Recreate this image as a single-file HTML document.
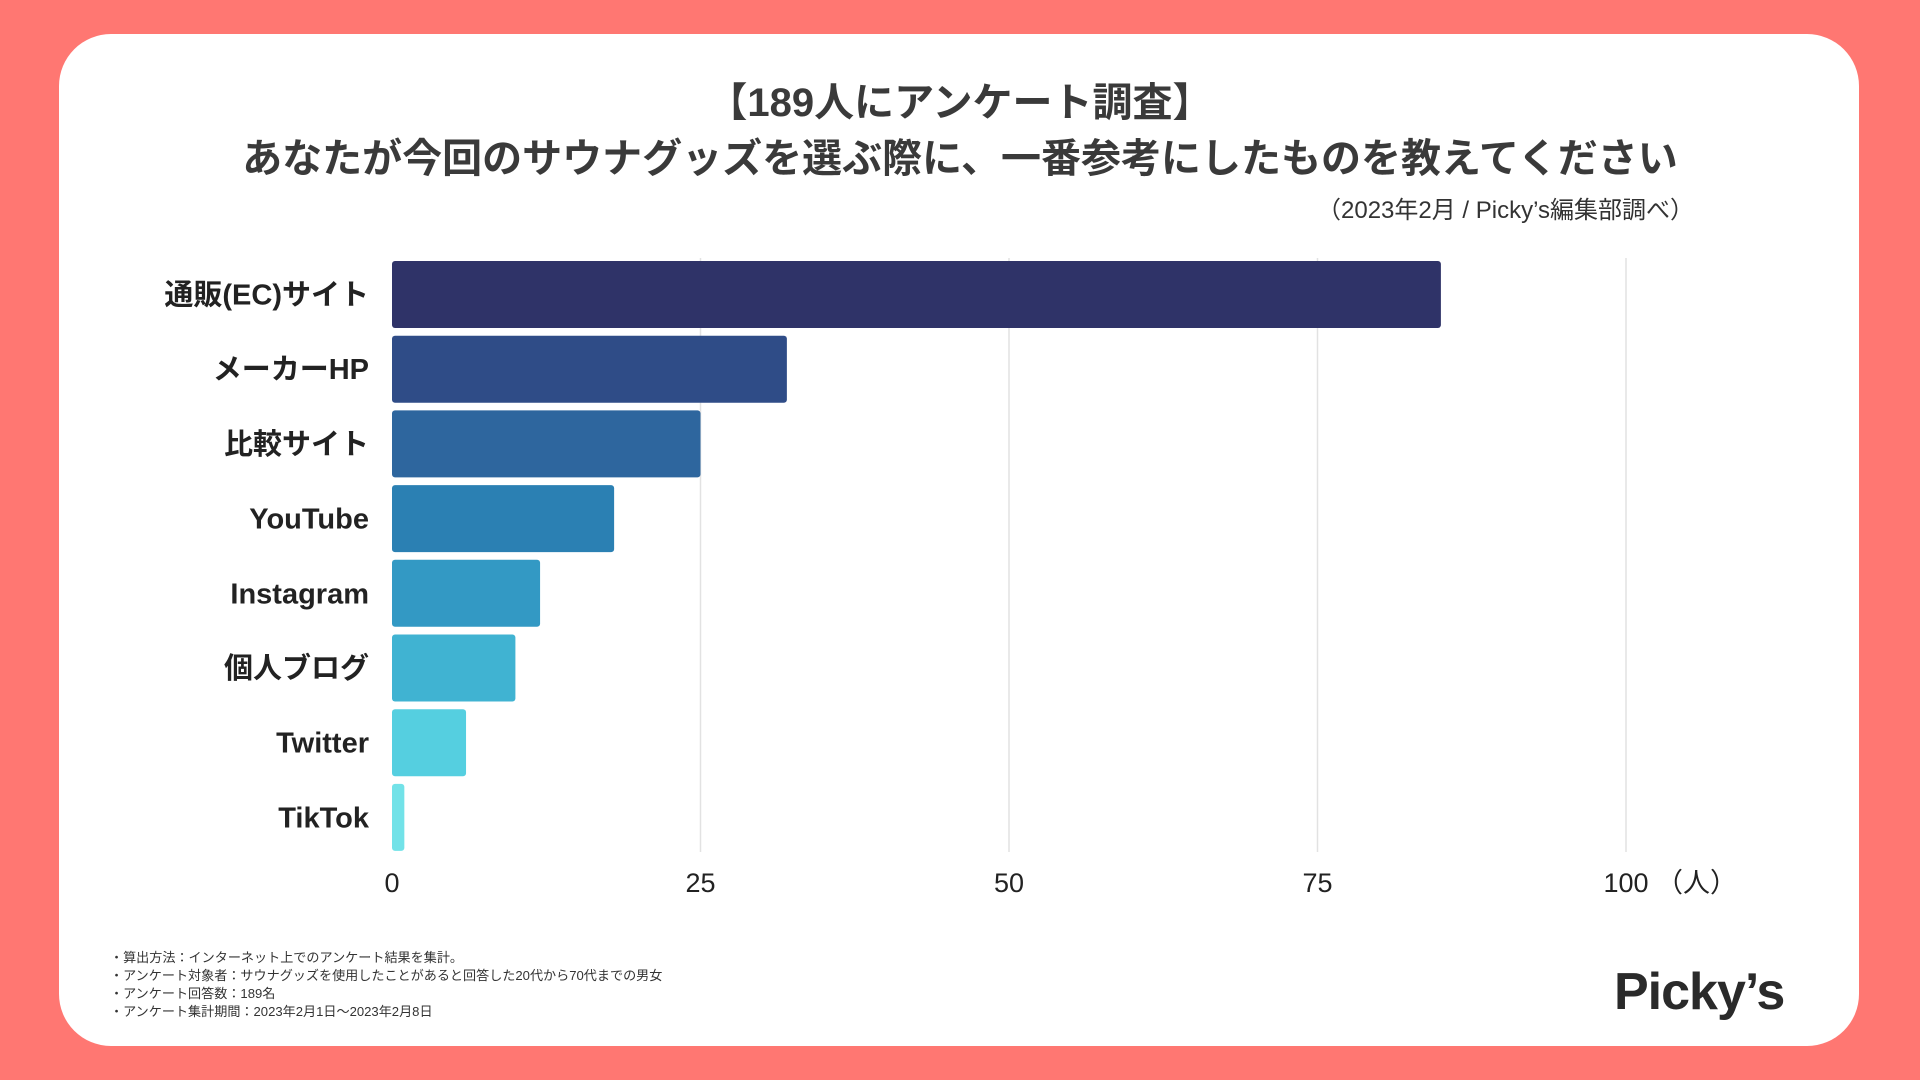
<!DOCTYPE html>
<html lang="ja"><head><meta charset="utf-8">
<style>
html,body{margin:0;padding:0;}
body{width:1920px;height:1080px;background:#ff7772;position:relative;overflow:hidden;font-family:"Liberation Sans","Noto Sans CJK JP",sans-serif;}
#card{position:absolute;left:59px;top:34px;width:1800px;height:1012px;background:#fff;border-radius:52px;}
.t{position:absolute;left:0;width:1920px;text-align:center;font-weight:bold;color:#3a3a3a;font-size:40px;}
#src{position:absolute;right:226px;top:190px;font-size:24px;color:#333;}
#foot{position:absolute;left:110px;top:949px;font-size:13.1px;line-height:18px;color:#333;}
#logo{position:absolute;left:1614px;top:962px;font-size:52px;font-weight:bold;color:#2a2a2a;letter-spacing:-1px;}
</style></head><body>
<div id="card"></div>
<div class="t" style="top:70px">【189人にアンケート調査】</div>
<div class="t" style="top:126px">あなたが今回のサウナグッズを選ぶ際に、一番参考にしたものを教えてください</div>
<div id="src">（2023年2月 / Picky’s編集部調べ）</div>
<svg id="chart" width="1920" height="1080" style="position:absolute;left:0;top:0"></svg>
<div id="foot">・算出方法：インターネット上でのアンケート結果を集計。<br>・アンケート対象者：サウナグッズを使用したことがあると回答した20代から70代までの男女<br>・アンケート回答数：189名<br>・アンケート集計期間：2023年2月1日〜2023年2月8日</div>
<div id="logo">Picky’s</div>
<script>
const categories=["通販(EC)サイト","メーカーHP","比較サイト","YouTube","Instagram","個人ブログ","Twitter","TikTok"];
const values=[85,32,25,18,12,10,6,1];
const ticks=[0,25,50,75,100];
const tickLabels=["0","25","50","75","100"];
const colors=["#2f3368","#2f4c87","#2e669e","#2b80b3","#3399c4","#40b3d2","#55cfe0","#72e2e8"];
const NS="http://www.w3.org/2000/svg";
const svg=document.getElementById('chart');
const x0=392,x1=1626,top0=261,pitch=74.7,bh=67;
const xs=v=>x0+(v/100)*(x1-x0);
const ys=i=>top0+i*pitch;
function mk(t,a){const e=document.createElementNS(NS,t);for(const k in a)e.setAttribute(k,a[k]);svg.appendChild(e);return e;}
ticks.forEach((t,i)=>{
  if(t>0){const g=mk('line',{x1:xs(t),x2:xs(t),y1:258,y2:852,stroke:'#e2e2e2','stroke-width':1.5});
  
  }
  const l=mk('text',{x:xs(t),y:892,'text-anchor':'middle','font-size':27,fill:'#222','font-family':'Liberation Sans, Noto Sans CJK JP, sans-serif'});
  l.textContent=tickLabels[i];
  
  
});
const unit=mk('text',{x:xs(100)+30,y:892,'font-size':27,fill:'#222','font-family':'Liberation Sans, Noto Sans CJK JP, sans-serif'});
unit.textContent='（人）';


categories.forEach((c,i)=>{
  const r=mk('rect',{x:x0,y:ys(i),width:xs(values[i])-x0,height:bh,rx:3,fill:colors[i]});
  
  
  const t=mk('text',{x:369,y:ys(i)+bh/2+10,'text-anchor':'end','font-size':29,'font-weight':'bold',fill:'#222','font-family':'Liberation Sans, Noto Sans CJK JP, sans-serif'});
  t.textContent=c;
  
  
});
</script>
</body></html>
